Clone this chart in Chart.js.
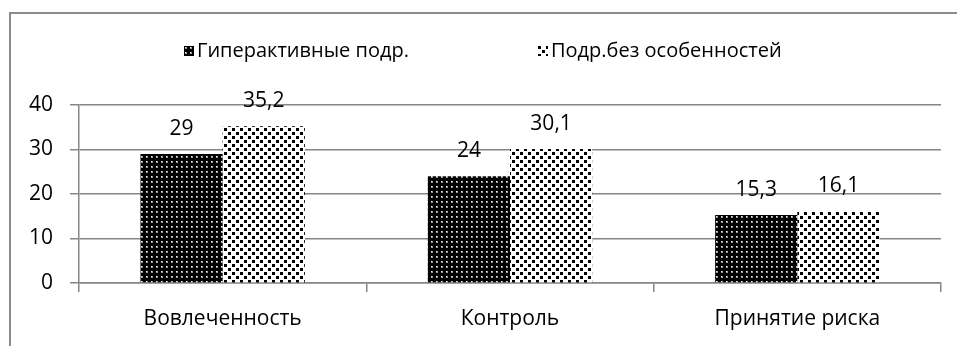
<!DOCTYPE html>
<html>
<head>
<meta charset="utf-8">
<script src="https://cdn.jsdelivr.net/npm/chart.js@4/dist/chart.umd.min.js"></script>
<style>
    body { margin: 0; background: #fff; overflow: hidden; }
    #wrap { position: relative; width: 957px; height: 346px; }
    #frame { position: absolute; left: 9px; top: 12px; width: 1000px; height: 400px; border: 2px solid #8c8c8c; box-sizing: border-box; }
    #legend { position: absolute; top: 37px; left: 184px; font-family: "Open Sans", sans-serif; font-size: 20px; color: #000; white-space: nowrap; }
    #legend span.item { position: absolute; top: 0; line-height: 26px; }
    #legend canvas { vertical-align: middle; margin-right: 3px; position: relative; top: -1px; }
    #chart { position: absolute; left: 0; top: 0; }
</style>
</head>
<body>
<div id="wrap">
    <div id="frame"></div>
    <canvas id="chart" width="957" height="346"></canvas>
    <div id="legend"></div>
</div>
<script>
const categories = ['Вовлеченность', 'Контроль', 'Принятие риска'];
const seriesNames = ['Гиперактивные подр.', 'Подр.без особенностей'];
const hyperValues = [29, 24, 15.3];
const normalValues = [35.2, 30.1, 16.1];
const yTicks = [0, 10, 20, 30, 40];

const FONT = '"Open Sans", sans-serif';
const GRID = '#868686';

function darkPattern() {
    const c = document.createElement('canvas');
    c.width = 5; c.height = 5;
    const g = c.getContext('2d');
    g.fillStyle = '#000';
    g.fillRect(0, 0, 5, 5);
    g.fillStyle = '#9a9a9a';
    g.fillRect(1, 1, 2, 2);
    g.fillStyle = '#f0f0f0';
    g.fillRect(1, 1, 1, 1);
    return c;
}

function lightPattern() {
    const c = document.createElement('canvas');
    c.width = 8; c.height = 8;
    const g = c.getContext('2d');
    g.fillStyle = '#fff';
    g.fillRect(0, 0, 8, 8);
    g.fillStyle = '#000';
    g.fillRect(0, 0, 3, 3);
    g.fillRect(4, 4, 3, 3);
    return c;
}

const ctx = document.getElementById('chart').getContext('2d');
const tiles = [darkPattern(), lightPattern()];
const fills = tiles.map(t => ctx.createPattern(t, 'repeat'));

// legend with small patterned swatches
const legendX = [0, 354];
const legend = document.getElementById('legend');
seriesNames.forEach(function (name, i) {
    const item = document.createElement('span');
    item.className = 'item';
    item.style.left = legendX[i] + 'px';
    const sw = document.createElement('canvas');
    sw.width = 10; sw.height = 10;
    const sg = sw.getContext('2d');
    sg.fillStyle = sg.createPattern(tiles[i], 'repeat');
    sg.fillRect(0, 0, 10, 10);
    item.appendChild(sw);
    item.appendChild(document.createTextNode(name));
    legend.appendChild(item);
});

const valueLabels = {
    id: 'valueLabels',
    afterDatasetsDraw(chart) {
        const c = chart.ctx;
        c.save();
        c.font = '21px ' + FONT;
        c.fillStyle = '#000';
        c.textAlign = 'center';
        c.textBaseline = 'middle';
        chart.data.datasets.forEach(function (ds, i) {
            chart.getDatasetMeta(i).data.forEach(function (bar, j) {
                const txt = String(ds.data[j]).replace('.', ',');
                c.fillText(txt, bar.x, bar.y - 25);
            });
        });
        c.restore();
    }
};

new Chart(ctx, {
    type: 'bar',
    data: {
        labels: categories,
        datasets: [{
            label: seriesNames[0],
            data: hyperValues,
            backgroundColor: fills[0],
            borderWidth: 0
        }, {
            label: seriesNames[1],
            data: normalValues,
            backgroundColor: fills[1],
            borderWidth: 0
        }]
    },
    options: {
        responsive: false,
        animation: false,
        layout: {
            padding: { left: 0, right: 16, top: 105, bottom: 0 }
        },
        plugins: {
            legend: { display: false },
            tooltip: { enabled: false }
        },
        datasets: {
            bar: {
                categoryPercentage: 0.572,
                barPercentage: 1
            }
        },
        scales: {
            x: {
                grid: {
                    display: true,
                    drawOnChartArea: false,
                    drawTicks: true,
                    tickLength: 9,
                    color: GRID,
                    lineWidth: 1.5
                },
                border: { display: true, color: GRID, width: 1.5 },
                ticks: {
                    color: '#000',
                    font: { family: FONT, size: 21 },
                    padding: 14
                },
                afterFit: function (scale) { scale.height = 63; }
            },
            y: {
                min: 0,
                max: 40,
                afterBuildTicks: function (scale) {
                    scale.ticks = yTicks.map(v => ({ value: v }));
                },
                grid: {
                    color: GRID,
                    lineWidth: 1.5,
                    tickLength: 9
                },
                border: { display: true, color: GRID, width: 1.5 },
                ticks: {
                    color: '#000',
                    font: { family: FONT, size: 21 },
                    padding: 17
                },
                afterFit: function (scale) { scale.width = 79; }
            }
        }
    },
    plugins: [valueLabels]
});
</script>
</body>
</html>
